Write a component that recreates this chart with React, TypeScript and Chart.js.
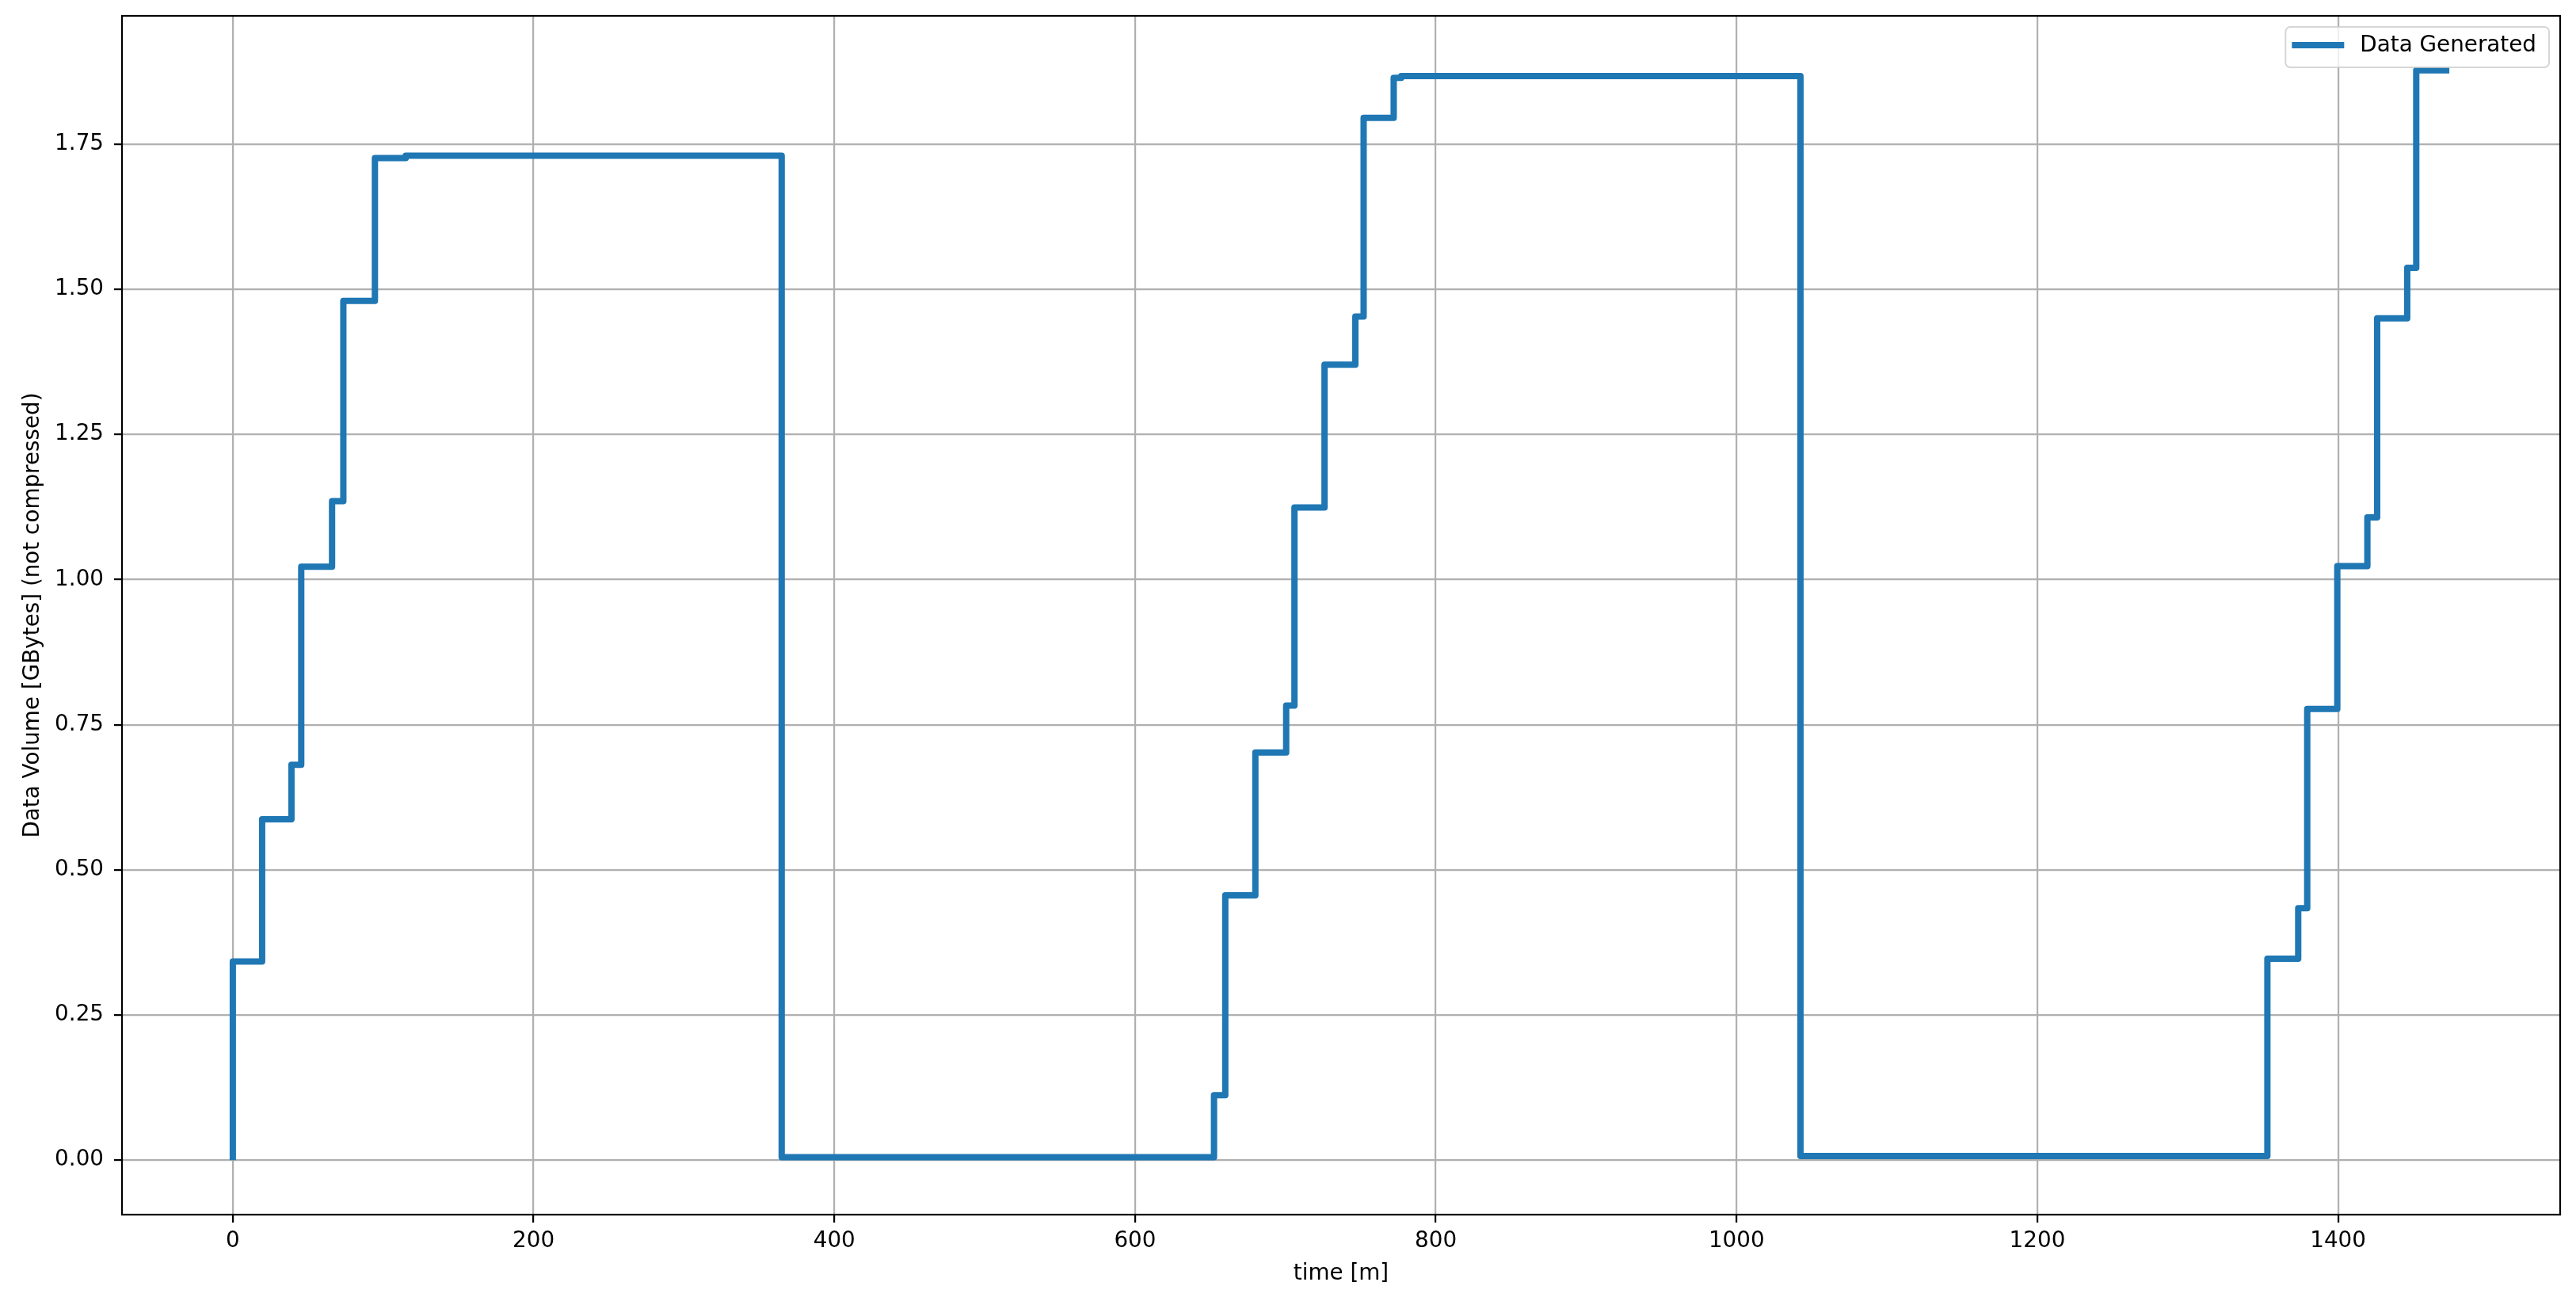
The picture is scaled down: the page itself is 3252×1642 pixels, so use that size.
import React, { useEffect, useRef } from "react";
import { Chart, registerables } from "chart.js";

Chart.register(...registerables);

// ---- data ----
const timeMinutes = [
  0, 0, 19.5, 39, 45.5, 66, 73.5, 94.5, 115, 365,
  652.5, 660, 680, 700.5, 706, 726, 746.5, 752, 772, 777, 1042.5,
  1353, 1373.5, 1379.5, 1399.5, 1419.5, 1426, 1446, 1452, 1474,
];
const dataVolumeGB = [
  0, 0.342, 0.587, 0.681, 1.022, 1.135, 1.48, 1.726, 1.73, 0.005,
  0.112, 0.456, 0.702, 0.783, 1.124, 1.37, 1.453, 1.795, 1.864, 1.867, 0.007,
  0.347, 0.434, 0.777, 1.023, 1.107, 1.45, 1.537, 1.877, 1.877,
];
const xTickValues = [0, 200, 400, 600, 800, 1000, 1200, 1400];
const yTickValues = [0, 0.25, 0.5, 0.75, 1.0, 1.25, 1.5, 1.75];
const seriesLabel = "Data Generated";
const xAxisTitle = "time [m]";
const yAxisTitle = "Data Volume [GBytes] (not compressed)";

// ---- layout / style ----
const W = 3252;
const H = 1642;
const FONT_FAMILY = "'DejaVu Sans', 'Liberation Sans', sans-serif";
const FONT_SIZE = 27.8;
const LINE_COLOR = "#1f77b4";

const framePlugin = {
  id: "axesFrame",
  afterDatasetsDraw(chart: any) {
    const { ctx, chartArea: a } = chart;
    ctx.save();
    ctx.strokeStyle = "#000";
    ctx.lineWidth = 2.2;
    ctx.strokeRect(a.left, a.top, a.right - a.left, a.bottom - a.top);
    ctx.restore();
  },
};

const legendPlugin = {
  id: "mplLegend",
  afterDraw(chart: any) {
    const { ctx, chartArea: a } = chart;
    const ds = chart.data.datasets[0];
    const label = ds.label as string;
    ctx.save();
    ctx.font = `${FONT_SIZE}px ${FONT_FAMILY}`;
    const tw = ctx.measureText(label).width;
    const padL = 8, handle = 66, gap = 20, padR = 16, h = 51;
    const w = padL + handle + gap + tw + padR;
    const right = a.right - 14;
    const top = a.top + 14;
    const left = right - w;
    ctx.beginPath();
    (ctx as any).roundRect(left, top, w, h, 6);
    ctx.fillStyle = "rgba(255,255,255,0.8)";
    ctx.fill();
    ctx.strokeStyle = "rgba(204,204,204,0.8)";
    ctx.lineWidth = 2;
    ctx.stroke();
    const cy = top + 23;
    ctx.beginPath();
    ctx.moveTo(left + padL, cy);
    ctx.lineTo(left + padL + handle, cy);
    ctx.strokeStyle = ds.borderColor;
    ctx.lineWidth = 8;
    ctx.lineCap = "butt";
    ctx.stroke();
    ctx.fillStyle = "#000";
    ctx.textBaseline = "middle";
    ctx.textAlign = "left";
    ctx.fillText(label, left + padL + handle + gap, cy + 1);
    ctx.restore();
  },
};

export default function App() {
  const ref = useRef<HTMLCanvasElement>(null);

  useEffect(() => {
    if (!ref.current) return;
    const points = timeMinutes.map((t, i) => ({ x: t, y: dataVolumeGB[i] }));
    const tickFont = { family: FONT_FAMILY, size: FONT_SIZE };
    const chart = new Chart(ref.current, {
      type: "line",
      data: {
        datasets: [
          {
            label: seriesLabel,
            data: points,
            borderColor: LINE_COLOR,
            backgroundColor: LINE_COLOR,
            borderWidth: 8,
            stepped: "before",
            pointRadius: 0,
            pointHoverRadius: 0,
            fill: false,
            borderJoinStyle: "round",
            borderCapStyle: "butt",
          },
        ],
      },
      options: {
        responsive: false,
        maintainAspectRatio: false,
        devicePixelRatio: 1,
        animation: false,
        events: [],
        layout: { padding: { top: 20, right: 20, left: 0, bottom: 0 } },
        plugins: {
          legend: { display: false },
          tooltip: { enabled: false },
          title: { display: false },
        },
        scales: {
          x: {
            type: "linear",
            min: -73.7,
            max: 1547.7,
            afterBuildTicks: (scale: any) => {
              scale.ticks = xTickValues.map((v) => ({ value: v }));
            },
            afterFit: (scale: any) => {
              scale.height = 109;
              scale.paddingLeft = 0;
              scale.paddingRight = 0;
              scale.paddingTop = 0;
              scale.paddingBottom = 0;
            },
            ticks: {
              color: "#000",
              font: tickFont,
              padding: 7,
              maxRotation: 0,
              autoSkip: false,
              callback: (v: any) => String(v),
            },
            grid: {
              color: "#b0b0b0",
              lineWidth: 2.2,
              drawTicks: true,
              tickLength: 10,
              tickColor: "#000",
              tickWidth: 2.2,
            },
            border: { display: false },
            title: {
              display: true,
              text: xAxisTitle,
              color: "#000",
              font: tickFont,
              padding: { top: 0, bottom: 18 },
            },
          },
          y: {
            type: "linear",
            min: -0.09385,
            max: 1.97085,
            afterBuildTicks: (scale: any) => {
              scale.ticks = yTickValues.map((v) => ({ value: v }));
            },
            afterFit: (scale: any) => {
              scale.width = 154;
              scale.paddingLeft = 0;
              scale.paddingRight = 0;
              scale.paddingTop = 0;
              scale.paddingBottom = 0;
            },
            ticks: {
              color: "#000",
              font: tickFont,
              padding: 13,
              autoSkip: false,
              callback: (v: any) => Number(v).toFixed(2),
            },
            grid: {
              color: "#b0b0b0",
              lineWidth: 2.2,
              drawTicks: true,
              tickLength: 10,
              tickColor: "#000",
              tickWidth: 2.2,
            },
            border: { display: false },
            title: {
              display: true,
              text: yAxisTitle,
              color: "#000",
              font: tickFont,
              padding: { top: 25, bottom: 0 },
            },
          },
        },
      },
      plugins: [framePlugin, legendPlugin],
    } as any);
    return () => chart.destroy();
  }, []);

  return (
    <div
      style={{
        position: "absolute",
        left: 0,
        top: 0,
        width: W,
        height: H,
        background: "#fff",
      }}
    >
      <canvas
        ref={ref}
        width={W}
        height={H}
        style={{ display: "block", width: W, height: H }}
      />
    </div>
  );
}
